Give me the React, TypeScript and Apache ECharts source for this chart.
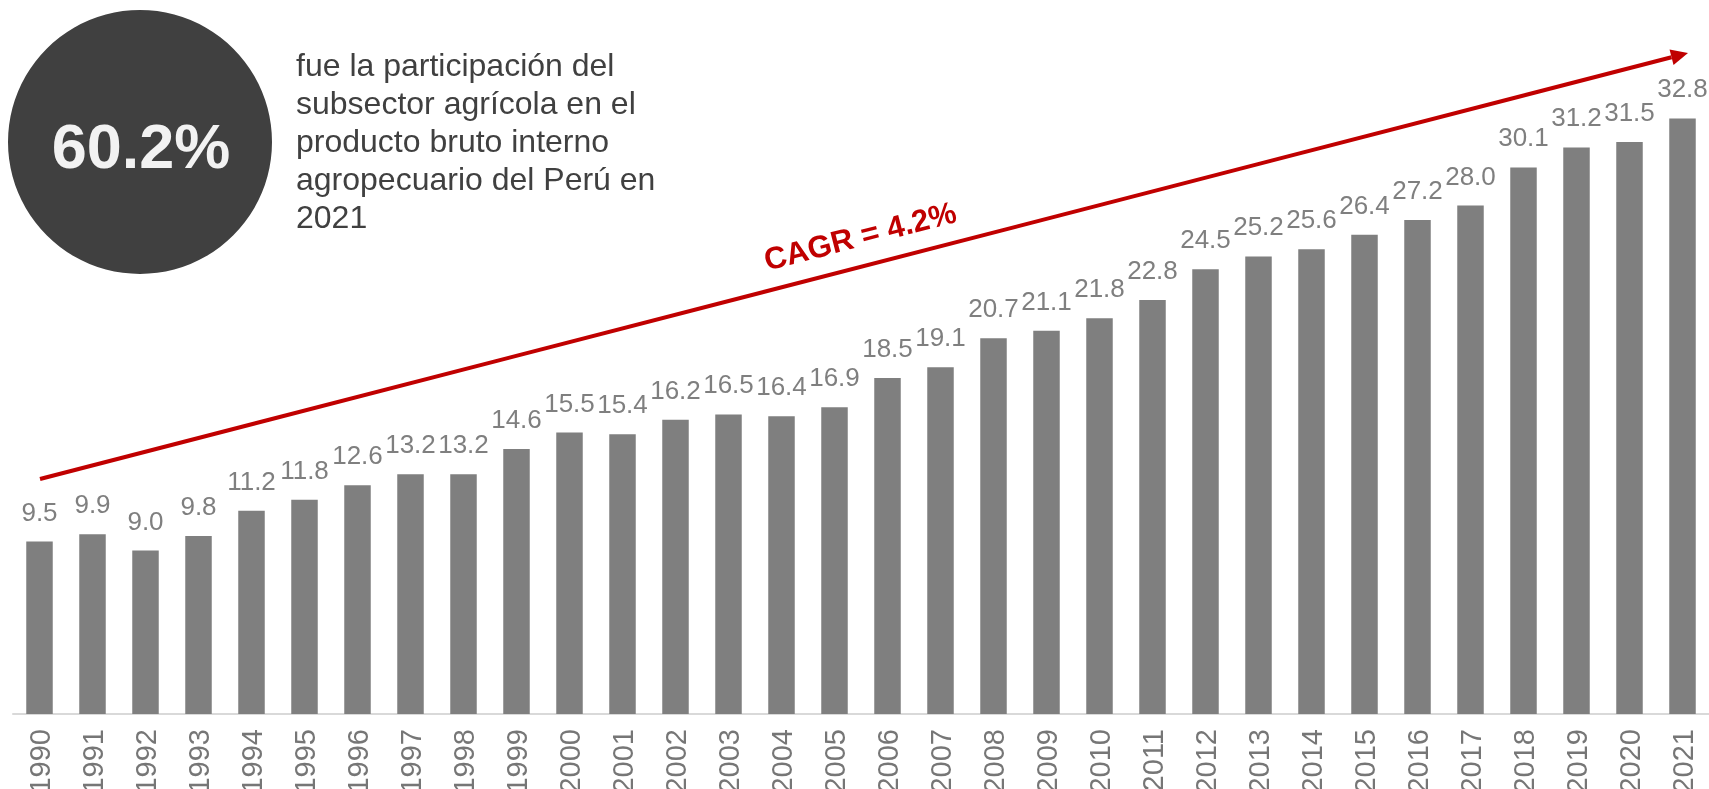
import React, { useEffect, useRef } from "react";
import * as echarts from "echarts";

const years = [
  "1990", "1991", "1992", "1993", "1994", "1995", "1996", "1997", "1998", "1999",
  "2000", "2001", "2002", "2003", "2004", "2005", "2006", "2007", "2008", "2009",
  "2010", "2011", "2012", "2013", "2014", "2015", "2016", "2017", "2018", "2019",
  "2020", "2021",
];
const values = [
  9.5, 9.9, 9.0, 9.8, 11.2, 11.8, 12.6, 13.2, 13.2, 14.6,
  15.5, 15.4, 16.2, 16.5, 16.4, 16.9, 18.5, 19.1, 20.7, 21.1,
  21.8, 22.8, 24.5, 25.2, 25.6, 26.4, 27.2, 28.0, 30.1, 31.2,
  31.5, 32.8,
];
const bigNumber = "60.2%";
const descriptionLines = [
  "fue la participación del",
  "subsector agrícola en el",
  "producto bruto interno",
  "agropecuario del Perú en",
  "2021",
];
const cagrLabel = "CAGR = 4.2%";

const FONT = "'Liberation Sans', Arial, sans-serif";
const RED = "#c00000";

export default function App() {
  const ref = useRef<HTMLDivElement>(null);
  useEffect(() => {
    if (!ref.current) return;
    const chart = echarts.init(ref.current, undefined, { renderer: "svg" });

    // arrow geometry
    const x1 = 40, y1 = 479, tx = 1688, ty = 53;
    const dx = tx - x1, dy = ty - y1;
    const len = Math.sqrt(dx * dx + dy * dy);
    const ux = dx / len, uy = dy / len;
    const headLen = 17, headHalf = 8;
    const bx = tx - headLen * ux, by = ty - headLen * uy;
    const nx = -uy, ny = ux;
    const angle = Math.atan2(-dy, dx);

    chart.setOption({
      animation: false,
      grid: {
        left: 13,
        right: 0,
        top: 24,
        bottom: 75,
        containLabel: false,
        outerBoundsMode: "none",
      },
      xAxis: {
        type: "category",
        data: years,
        axisLine: { lineStyle: { color: "#d9d9d9", width: 2 } },
        axisTick: { show: false },
        axisLabel: {
          rotate: 90,
          margin: 15,
          fontSize: 29,
          color: "#767676",
          fontFamily: FONT,
          interval: 0,
          hideOverlap: false,
        },
      },
      yAxis: {
        type: "value",
        min: 0,
        max: 38,
        show: false,
        splitLine: { show: false },
      },
      series: [
        {
          type: "bar",
          data: values,
          barWidth: "50%",
          itemStyle: { color: "#7f7f7f" },
          label: {
            show: true,
            position: "top",
            distance: 17,
            fontSize: 26,
            color: "#7f7f7f",
            fontFamily: FONT,
            formatter: (p: any) => Number(p.value).toFixed(1),
          },
        },
      ],
      graphic: [
        {
          type: "circle",
          shape: { cx: 140, cy: 142, r: 132 },
          style: { fill: "#404040" },
        },
        {
          type: "text",
          x: 141,
          y: 146,
          style: {
            text: bigNumber,
            fill: "#f2f2f2",
            font: `bold 63px ${FONT}`,
            textAlign: "center",
            textVerticalAlign: "middle",
          },
        },
        {
          type: "text",
          x: 296,
          y: 46,
          style: {
            text: descriptionLines.join("\n"),
            fill: "#404040",
            font: `32px ${FONT}`,
            lineHeight: 38,
            textAlign: "left",
            textVerticalAlign: "top",
          },
        },
        {
          type: "line",
          shape: { x1, y1, x2: bx, y2: by },
          style: { stroke: RED, lineWidth: 4 },
        },
        {
          type: "polygon",
          shape: {
            points: [
              [tx, ty],
              [bx + headHalf * nx, by + headHalf * ny],
              [bx - headHalf * nx, by - headHalf * ny],
            ],
          },
          style: { fill: RED },
        },
        {
          type: "text",
          x: 860,
          y: 236,
          rotation: angle,
          style: {
            text: cagrLabel,
            fill: RED,
            font: `bold 31px ${FONT}`,
            textAlign: "center",
            textVerticalAlign: "middle",
          },
        },
      ],
    });
    return () => chart.dispose();
  }, []);
  return (
    <div
      ref={ref}
      style={{ position: "fixed", left: 0, top: 0, width: 1709, height: 789 }}
    />
  );
}
